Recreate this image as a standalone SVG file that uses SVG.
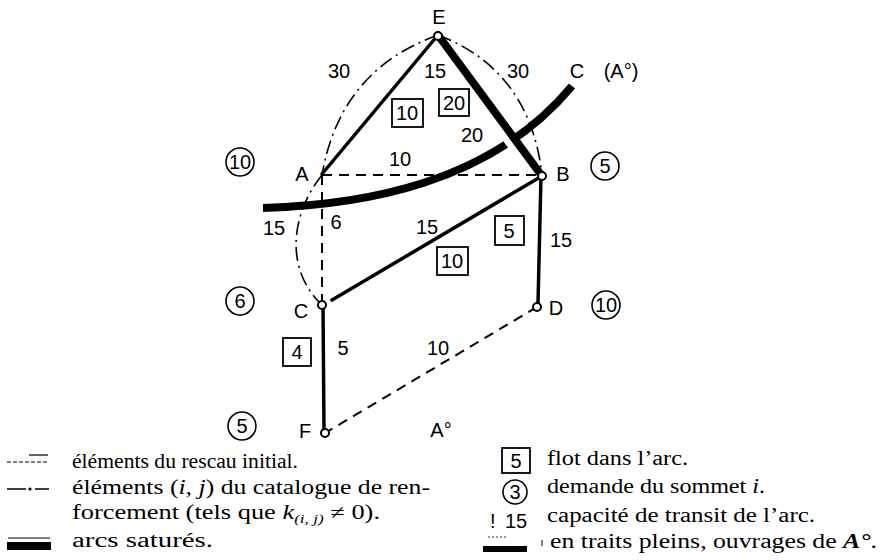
<svg xmlns="http://www.w3.org/2000/svg" width="885" height="560" viewBox="0 0 885 560">
<style>
.lbl{font-family:"Liberation Sans",Arial,sans-serif;font-size:20px;fill:#000}
.leg{font-family:"Liberation Serif","Times New Roman",serif;font-size:20px;fill:#000}
.sol{stroke:#000;stroke-width:3.5;fill:none;stroke-linecap:round}
.sat{stroke:#000;stroke-width:8;fill:none}
.dash{stroke:#000;stroke-width:2;fill:none;stroke-dasharray:10 7}
.dd{stroke:#000;stroke-width:1.6;fill:none;stroke-dasharray:14 5 2 5}
.node{fill:#fff;stroke:#000;stroke-width:2}
.box{fill:none;stroke:#000;stroke-width:1.8}
.dem{fill:none;stroke:#000;stroke-width:1.6}
</style>
<rect width="885" height="560" fill="#fff"/>
<g id="connectors">
  <path class="dd" d="M438,35 Q340,70 322,175"/>
  <path class="dd" d="M322,175 C290,215 285,270 322,305"/>
  <path class="dd" d="M438,35 Q530,70 542,175"/>
  <path class="dash" d="M322,175 H542"/>
  <path class="dash" d="M322,175 V305"/>
  <path class="dash" d="M537,307 L325,433"/>
  <path class="sol" d="M322,174 L438,35"/>
  <path class="sol" d="M332,300 L542,176"/>
  <path class="sol" d="M541,176 L538,303"/>
  <path class="sol" d="M323,305 L324,432"/>
  <path class="sat" d="M263,208 C360,205 490,185 572,86"/>
  <path stroke="#fff" stroke-width="14" d="M503,129 L524,158"/>
  <path class="sat" d="M438,35 L542,176"/>
</g>
<g id="node-E"><circle class="node" cx="438" cy="36" r="4"/><text class="lbl" x="439" y="24" text-anchor="middle">E</text></g>
<g id="node-A"><text class="lbl" x="302" y="181" text-anchor="middle">A</text><circle class="dem" cx="240" cy="162" r="14"/><text class="lbl" x="240" y="169" text-anchor="middle">10</text></g>
<g id="node-B"><circle class="node" cx="542" cy="176" r="4"/><text class="lbl" x="563" y="181" text-anchor="middle">B</text><circle class="dem" cx="605" cy="166" r="14"/><text class="lbl" x="605" y="173" text-anchor="middle">5</text></g>
<g id="node-C"><circle class="node" cx="322" cy="305" r="4"/><text class="lbl" x="301" y="318" text-anchor="middle">C</text><circle class="dem" cx="240" cy="301" r="14"/><text class="lbl" x="240" y="308" text-anchor="middle">6</text></g>
<g id="node-D"><circle class="node" cx="537" cy="307" r="4"/><text class="lbl" x="556" y="315" text-anchor="middle">D</text><circle class="dem" cx="606" cy="305" r="14"/><text class="lbl" x="606" y="312" text-anchor="middle">10</text></g>
<g id="node-F"><circle class="node" cx="325" cy="433" r="4"/><text class="lbl" x="305" y="438" text-anchor="middle">F</text><circle class="dem" cx="242" cy="426" r="14"/><text class="lbl" x="242" y="433" text-anchor="middle">5</text></g>
<g id="node-Cext"><text class="lbl" x="577" y="78" text-anchor="middle">C</text><text class="lbl" x="621" y="78" text-anchor="middle">(A°)</text></g>
<g id="labels">
  <text class="lbl" x="339" y="78" text-anchor="middle">30</text>
  <text class="lbl" x="435" y="78" text-anchor="middle">15</text>
  <text class="lbl" x="518" y="78" text-anchor="middle">30</text>
  <rect class="box" x="392" y="99" width="31" height="28"/><text class="lbl" x="407" y="120" text-anchor="middle">10</text>
  <rect class="box" x="439" y="89" width="30" height="27"/><text class="lbl" x="454" y="110" text-anchor="middle">20</text>
  <text class="lbl" x="472" y="142" text-anchor="middle">20</text>
  <text class="lbl" x="400" y="166" text-anchor="middle">10</text>
  <text class="lbl" x="427" y="234" text-anchor="middle">15</text>
  <rect class="box" x="495" y="216" width="29" height="29"/><text class="lbl" x="509" y="238" text-anchor="middle">5</text>
  <text class="lbl" x="561" y="247" text-anchor="middle">15</text>
  <rect class="box" x="437" y="247" width="31" height="28"/><text class="lbl" x="452" y="268" text-anchor="middle">10</text>
  <text class="lbl" x="274" y="235" text-anchor="middle">15</text>
  <text class="lbl" x="336" y="229" text-anchor="middle">6</text>
  <rect class="box" x="283" y="338" width="28" height="28"/><text class="lbl" x="297" y="359" text-anchor="middle">4</text>
  <text class="lbl" x="343" y="355" text-anchor="middle">5</text>
  <text class="lbl" x="438" y="355" text-anchor="middle">10</text>
  <text class="lbl" x="441" y="437" text-anchor="middle">A°</text>
</g>
<g id="legend">
  <path d="M29,455 H48" stroke="#000" stroke-width="1.2"/>
  <path d="M7,462 H49" stroke="#000" stroke-width="1.2" stroke-dasharray="4 2"/>
  <text class="leg" x="72" y="468" textLength="226" lengthAdjust="spacingAndGlyphs">éléments du rescau initial.</text>
  <path d="M7,489 H26 M35,489 H49" stroke="#000" stroke-width="1.5"/>
  <circle cx="30" cy="489" r="1.6" fill="#000"/>
  <text class="leg" x="72" y="494" textLength="358" lengthAdjust="spacingAndGlyphs">éléments (<tspan font-style="italic">i, j</tspan>) du catalogue de ren-</text>
  <text class="leg" x="72" y="519" textLength="308" lengthAdjust="spacingAndGlyphs">forcement (tels que <tspan font-style="italic">k</tspan><tspan font-style="italic" font-size="13" dy="4">(i, j)</tspan><tspan dy="-4"> ≠ 0).</tspan></text>
  <path d="M8,538 H50" stroke="#000" stroke-width="1"/>
  <rect x="7" y="542" width="44" height="8" fill="#000"/>
  <text class="leg" x="72" y="547" textLength="141" lengthAdjust="spacingAndGlyphs">arcs saturés.</text>
  <rect class="box" x="502" y="448" width="28" height="25"/><text class="lbl" x="516" y="468" text-anchor="middle">5</text>
  <text class="leg" x="547" y="465" textLength="141" lengthAdjust="spacingAndGlyphs">flot dans l’arc.</text>
  <circle class="dem" cx="515" cy="492" r="12"/><text class="lbl" x="515" y="499" text-anchor="middle">3</text>
  <text class="leg" x="547" y="493" textLength="218" lengthAdjust="spacingAndGlyphs">demande du sommet <tspan font-style="italic">i</tspan>.</text>
  <text class="lbl" x="490" y="528">!</text><text class="lbl" x="505" y="528">15</text>
  <path d="M488,537 H508" stroke="#000" stroke-width="0.8" stroke-dasharray="2 2"/>
  <text class="leg" x="547" y="522" textLength="268" lengthAdjust="spacingAndGlyphs">capacité de transit de l’arc.</text>
  <rect x="483" y="546" width="44" height="6" fill="#000"/>
  <path d="M542,540 V546" stroke="#000" stroke-width="1"/>
  <text class="leg" x="550" y="548" textLength="327" lengthAdjust="spacingAndGlyphs">en traits pleins, ouvrages de <tspan font-style="italic" font-weight="bold">A°</tspan>.</text>
</g>
</svg>
